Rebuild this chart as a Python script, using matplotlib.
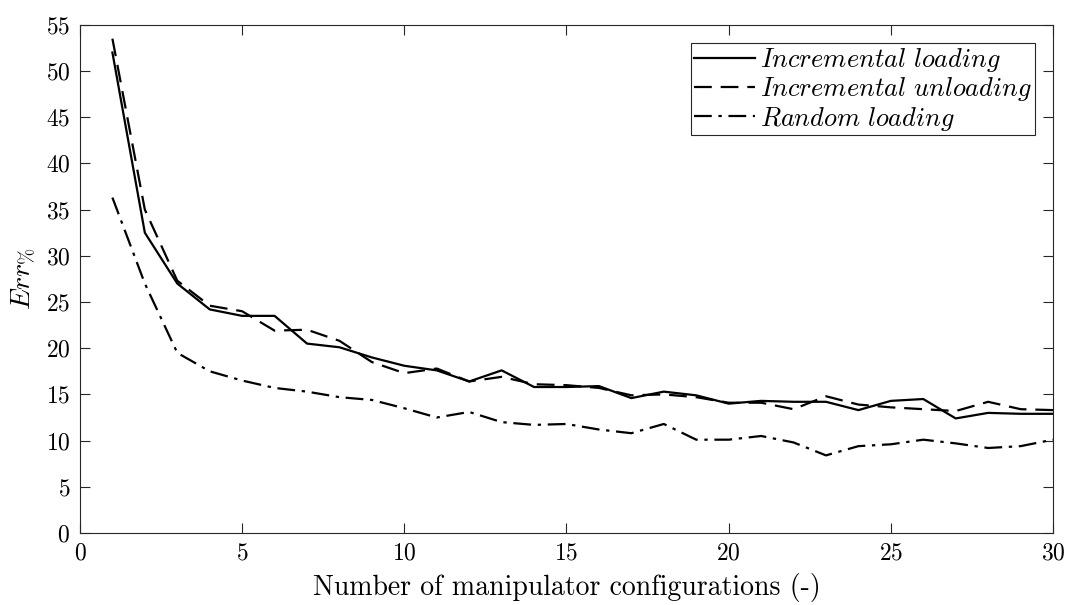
import matplotlib
matplotlib.use("Agg")
import matplotlib.pyplot as plt

plt.rcParams['font.family'] = 'serif'
plt.rcParams['font.serif'] = ['cmr10']
plt.rcParams['mathtext.fontset'] = 'cm'
plt.rcParams['axes.formatter.use_mathtext'] = True

configs = list(range(1, 31))
inc_loading = [52.0, 32.5, 27.0, 24.2, 23.5, 23.5, 20.5, 20.1, 19.0, 18.1,
               17.6, 16.4, 17.6, 15.8, 15.8, 15.9, 14.6, 15.3, 14.9, 14.0,
               14.3, 14.2, 14.2, 13.3, 14.3, 14.5, 12.4, 13.0, 12.9, 12.9]
inc_unloading = [53.5, 35.0, 27.3, 24.6, 24.0, 21.9, 22.0, 20.8, 18.5, 17.3,
                 17.8, 16.4, 16.9, 16.1, 16.0, 15.7, 14.9, 15.0, 14.7, 14.1,
                 14.1, 13.4, 14.8, 13.9, 13.6, 13.4, 13.2, 14.2, 13.4, 13.3]
random_loading = [36.3, 27.0, 19.5, 17.5, 16.5, 15.7, 15.3, 14.7, 14.4, 13.5,
                  12.5, 13.1, 12.0, 11.7, 11.8, 11.2, 10.8, 11.8, 10.1, 10.1,
                  10.5, 9.8, 8.4, 9.4, 9.6, 10.1, 9.7, 9.2, 9.4, 10.1]

labels = [r'$Incremental\ loading$', r'$Incremental\ unloading$', r'$Random\ loading$']
xticks = [0, 5, 10, 15, 20, 25, 30]
yticks = list(range(0, 56, 5))

fig = plt.figure(figsize=(10.72, 6.05), dpi=100)
ax = fig.add_axes([0.0746, 0.119, 0.9077, 0.840])

ax.plot(configs, inc_loading, color='black', lw=1.6, linestyle='-', label=labels[0])
ax.plot(configs, inc_unloading, color='black', lw=1.6, dashes=(8, 4), label=labels[1])
ax.plot(configs, random_loading, color='black', lw=1.6, dashes=(8, 3, 1.5, 3), label=labels[2])

ax.set_xlim(0, 30)
ax.set_ylim(0, 55)
ax.set_xticks(xticks)
ax.set_yticks(yticks)
ax.set_xticklabels([f'${v}$' for v in xticks])
ax.set_yticklabels([f'${v}$' for v in yticks])
ax.tick_params(direction='in', length=7, width=0.8, top=True, right=True,
               labelsize=17, colors='#262626', labelcolor='black', pad=7)
for s in ax.spines.values():
    s.set_color('#262626')
    s.set_linewidth(0.8)

ax.set_xlabel('Number of manipulator configurations (-)', fontsize=20, labelpad=6)
ax.set_ylabel(r'$Err_{\%}$', fontsize=20, labelpad=6)

leg = ax.legend(loc='upper right', fontsize=19, frameon=True, fancybox=False,
                edgecolor='#262626', framealpha=1, handlelength=2.3,
                handletextpad=0.2, borderpad=0.1, labelspacing=0.05,
                borderaxespad=0.7)
leg.get_frame().set_linewidth(0.8)

fig.savefig('out.png', dpi=100)
